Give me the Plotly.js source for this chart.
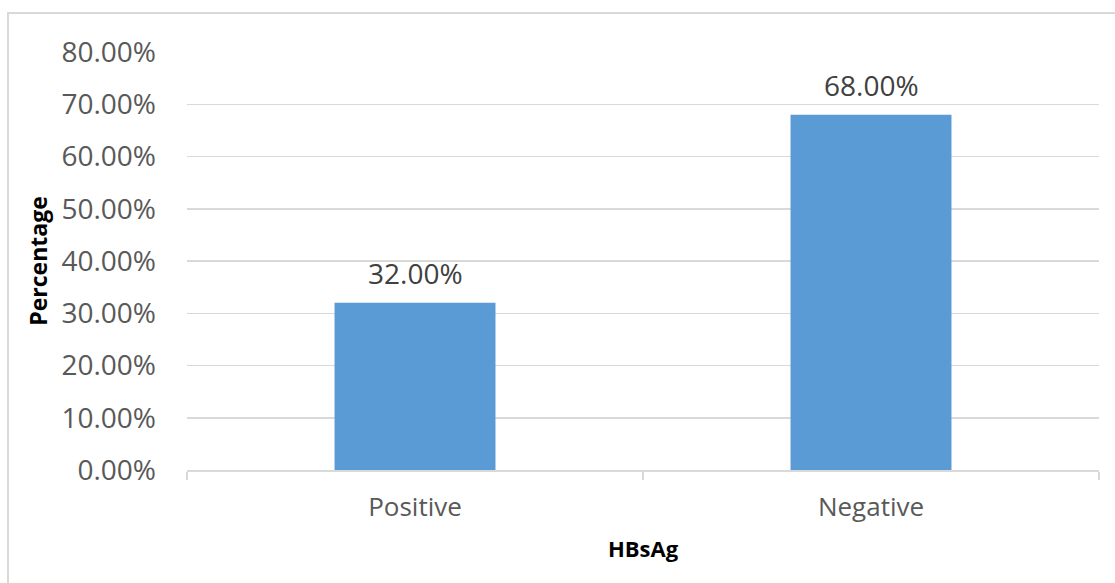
<!DOCTYPE html>
<html>
<head>
<meta charset="utf-8">
<script src="https://cdn.plot.ly/plotly-3.0.1.min.js"></script>
<style>
  html, body { margin: 0; padding: 0; background: #ffffff; overflow: hidden; }
  #wrap { position: relative; width: 1115px; height: 583px; }
  #frame { position: absolute; left: 7px; top: 12px; width: 1130px; height: 600px;
           border: 2px solid #d9d9d9; box-sizing: border-box; pointer-events: none; }
  #chart { position: absolute; left: 0; top: 0; width: 1115px; height: 583px; }
</style>
</head>
<body>
<div id="wrap">
  <div id="chart"></div>
  <div id="frame"></div>
</div>
<script>
// HBsAg status distribution
const categories = ['Positive', 'Negative'];
const shares = [0.32, 0.68];
const yTicks = [0, 0.1, 0.2, 0.3, 0.4, 0.5, 0.6, 0.7, 0.8];

const fmtPct = v => (v * 100).toFixed(2) + '%';

const trace = {
  type: 'bar',
  x: categories,
  y: shares,
  marker: { color: '#5b9bd5' },
  hoverinfo: 'skip'
};

// value labels sit above each bar
const labels = categories.map((c, i) => ({
  x: c, y: shares[i], xref: 'x', yref: 'y',
  text: fmtPct(shares[i]),
  showarrow: false, yanchor: 'bottom', yshift: 9,
  font: { family: 'Open Sans, sans-serif', size: 28, color: '#404040' }
}));

const layout = {
  width: 1115,
  height: 583,
  margin: { l: 187, r: 16, t: 52, b: 113 },
  paper_bgcolor: 'rgba(0,0,0,0)',
  plot_bgcolor: '#ffffff',
  bargap: 0.647,
  showlegend: false,
  font: { family: 'Open Sans, sans-serif', color: '#595959' },
  xaxis: {
    type: 'category',
    tickson: 'boundaries',
    ticks: 'outside',
    ticklen: 8,
    tickwidth: 1.5,
    tickcolor: '#d9d9d9',
    showline: true,
    linecolor: '#d9d9d9',
    linewidth: 1.5,
    showgrid: false,
    tickfont: { size: 26, color: '#595959' },
    ticklabelstandoff: 13,
    title: { text: '<b>HBsAg</b>', font: { size: 22, color: '#000000' }, standoff: 19 },
    fixedrange: true
  },
  yaxis: {
    range: [0, 0.8],
    tickvals: yTicks,
    ticktext: yTicks.map(fmtPct),
    showgrid: true,
    gridcolor: '#d9d9d9',
    gridwidth: 1.5,
    zeroline: false,
    showline: false,
    ticks: '',
    tickfont: { size: 28, color: '#595959' },
    ticklabelstandoff: 30,
    title: { text: '<b>Percentage</b>', font: { size: 23, color: '#000000' }, standoff: 7 },
    fixedrange: true
  },
  annotations: labels
};

Plotly.newPlot('chart', [trace], layout, { displayModeBar: false, staticPlot: true });
</script>
</body>
</html>
